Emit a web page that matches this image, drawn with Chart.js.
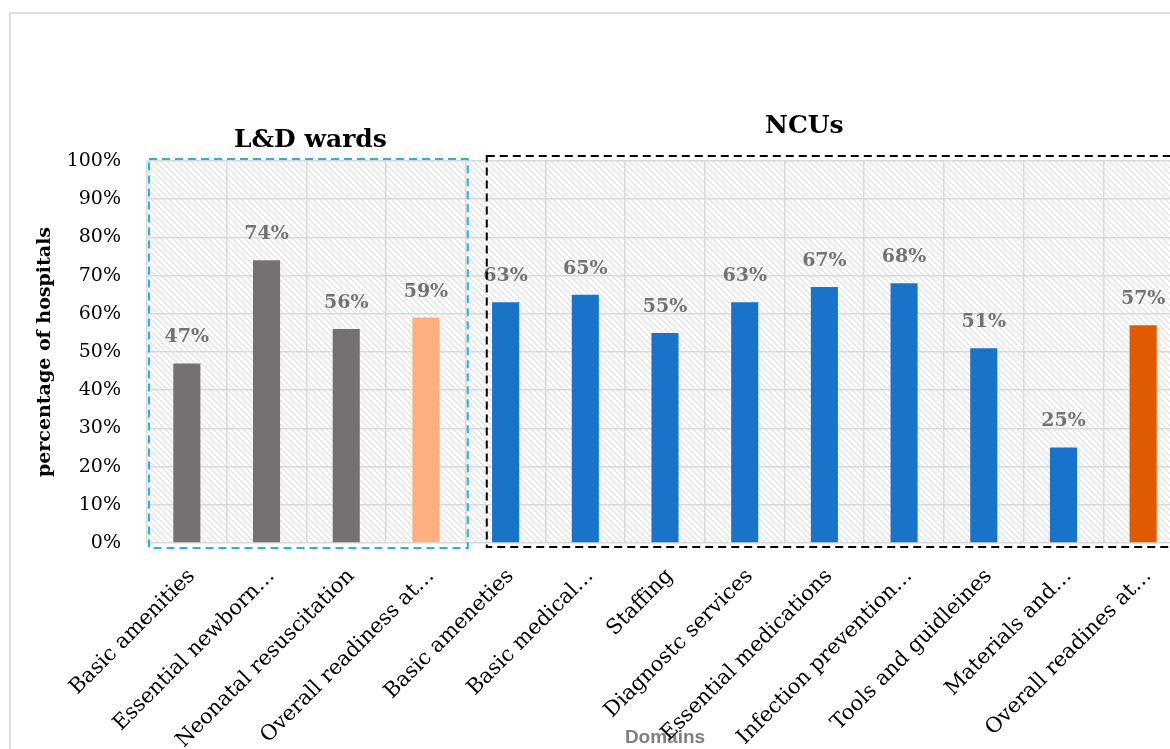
<!DOCTYPE html>
<html>
<head>
<meta charset="utf-8">
<script src="https://cdn.jsdelivr.net/npm/chart.js@4.4.0/dist/chart.umd.min.js"></script>
<style>
  html, body { margin: 0; padding: 0; background: #fff; overflow: hidden; width: 1170px; height: 749px; }
  .frame { position: absolute; left: 9px; top: 12px; width: 1300px; height: 900px; border: 2px solid #dcdcdc; }
  .chart-box { position: absolute; left: 0; top: 0; width: 1190px; height: 749px; }
</style>
</head>
<body>
<div class="frame"></div>
<div class="chart-box"><canvas id="readinessChart"></canvas></div>
<script>
// categories (L&D wards first four, NCUs the rest)
const domains = [
  "Basic amenities", "Essential newborn…", "Neonatal resuscitation", "Overall readiness at…",
  "Basic ameneties", "Basic medical…", "Staffing", "Diagnostc services", "Essential medications",
  "Infection prevention…", "Tools and guidleines", "Materials and…", "Overall readines at…"
];
// percentage of hospitals
const readiness = [47, 74, 56, 59, 63, 65, 55, 63, 67, 68, 51, 25, 57];
const yTicks = [0, 10, 20, 30, 40, 50, 60, 70, 80, 90, 100];
const groupTitles = ["L&D wards", "NCUs"];
const ldCount = 4;

const barColors = [
  "#767171", "#767171", "#767171", "#fcb07f",
  "#1873c9", "#1873c9", "#1873c9", "#1873c9", "#1873c9",
  "#1873c9", "#1873c9", "#1873c9", "#e05a00"
];

const serif = '"DejaVu Serif", "Liberation Serif", serif';

// light diagonal hatching behind the plot
function makeHatch() {
  const c = document.createElement('canvas');
  c.width = 6; c.height = 6;
  const g = c.getContext('2d');
  g.strokeStyle = '#e2e2e2';
  g.lineWidth = 1.3;
  g.beginPath();
  g.moveTo(-1, -1); g.lineTo(7, 7);
  g.moveTo(-4, 2); g.lineTo(4, 10);
  g.moveTo(2, -4); g.lineTo(10, 4);
  g.stroke();
  return c;
}

const hatchBackground = {
  id: 'hatchBackground',
  beforeDraw(chart) {
    const { ctx, chartArea } = chart;
    ctx.save();
    ctx.fillStyle = ctx.createPattern(makeHatch(), 'repeat');
    ctx.fillRect(chartArea.left, chartArea.top, chartArea.right - chartArea.left, chartArea.bottom - chartArea.top);
    ctx.restore();
  }
};

// percent labels above bars
const barLabels = {
  id: 'barLabels',
  afterDatasetsDraw(chart) {
    const { ctx } = chart;
    const meta = chart.getDatasetMeta(0);
    ctx.save();
    ctx.font = 'bold 19px ' + serif;
    ctx.fillStyle = '#767171';
    ctx.textAlign = 'center';
    ctx.textBaseline = 'middle';
    meta.data.forEach((bar, i) => {
      ctx.fillText(readiness[i] + '%', bar.x, bar.y - 26);
    });
    ctx.restore();
  }
};

// dashed boxes and group headings
const groupBoxes = {
  id: 'groupBoxes',
  afterDraw(chart) {
    const { ctx, chartArea } = chart;
    const xs = chart.scales.x, ys = chart.scales.y;
    const step = xs.getPixelForValue(1) - xs.getPixelForValue(0);
    const splitX = xs.getPixelForValue(ldCount - 1) + step / 2;
    const top = ys.getPixelForValue(100);
    const bottom = ys.getPixelForValue(0);

    ctx.save();
    ctx.lineWidth = 2;
    ctx.setLineDash([8, 5]);
    ctx.strokeStyle = '#1fb4ec';
    ctx.strokeRect(chartArea.left + 2, top - 2, splitX - chartArea.left, bottom - top + 7);

    ctx.strokeStyle = '#000';
    ctx.strokeRect(splitX + 21, top - 5, chartArea.right - splitX - 26, bottom - top + 9);
    ctx.setLineDash([]);

    ctx.font = 'bold 25px ' + serif;
    ctx.fillStyle = '#000';
    ctx.textAlign = 'center';
    ctx.textBaseline = 'middle';
    ctx.fillText(groupTitles[0], (chartArea.left + splitX) / 2 + 4, top - 21);
    ctx.fillText(groupTitles[1], xs.getPixelForValue(8) - 20, top - 35);
    ctx.restore();
  }
};

const ctx = document.getElementById('readinessChart').getContext('2d');
new Chart(ctx, {
  type: 'bar',
  data: {
    labels: domains,
    datasets: [{
      data: readiness,
      backgroundColor: barColors,
      borderWidth: 0,
      barPercentage: 0.34,
      categoryPercentage: 1
    }]
  },
  options: {
    responsive: true,
    maintainAspectRatio: false,
    animation: false,
    layout: { padding: { top: 161, left: 22, right: 7, bottom: 0 } },
    plugins: {
      legend: { display: false },
      tooltip: { enabled: false }
    },
    scales: {
      x: {
        afterFit: (s) => { s.height = 206; },
        grid: { color: '#d9d9d9', lineWidth: 1.5, drawTicks: false, offset: true },
        border: { display: false },
        ticks: {
          autoSkip: false,
          minRotation: 45,
          maxRotation: 45,
          padding: 21,
          labelOffset: 5,
          color: '#000',
          font: { family: serif, size: 21 }
        },
        title: {
          display: true,
          text: 'Domains',
          color: '#7f7f7f',
          font: { family: '"Liberation Sans", Arial, sans-serif', size: 19, weight: 'bold' },
          padding: { top: 0, bottom: 0 }
        }
      },
      y: {
        min: 0,
        max: 100,
        afterFit: (s) => { s.width = 125; },
        afterBuildTicks: (s) => { s.ticks = yTicks.map(v => ({ value: v })); },
        grid: { color: '#d9d9d9', lineWidth: 1.5, drawTicks: false },
        border: { display: false },
        ticks: {
          padding: 26,
          color: '#000',
          font: { family: serif, size: 19 },
          callback: (v) => v + '%'
        },
        title: {
          display: true,
          text: 'percentage of hospitals',
          color: '#000',
          font: { family: serif, size: 19, weight: 'bold' },
          padding: { top: 12, bottom: 0 }
        }
      }
    }
  },
  plugins: [hatchBackground, barLabels, groupBoxes]
});
</script>
</body>
</html>
